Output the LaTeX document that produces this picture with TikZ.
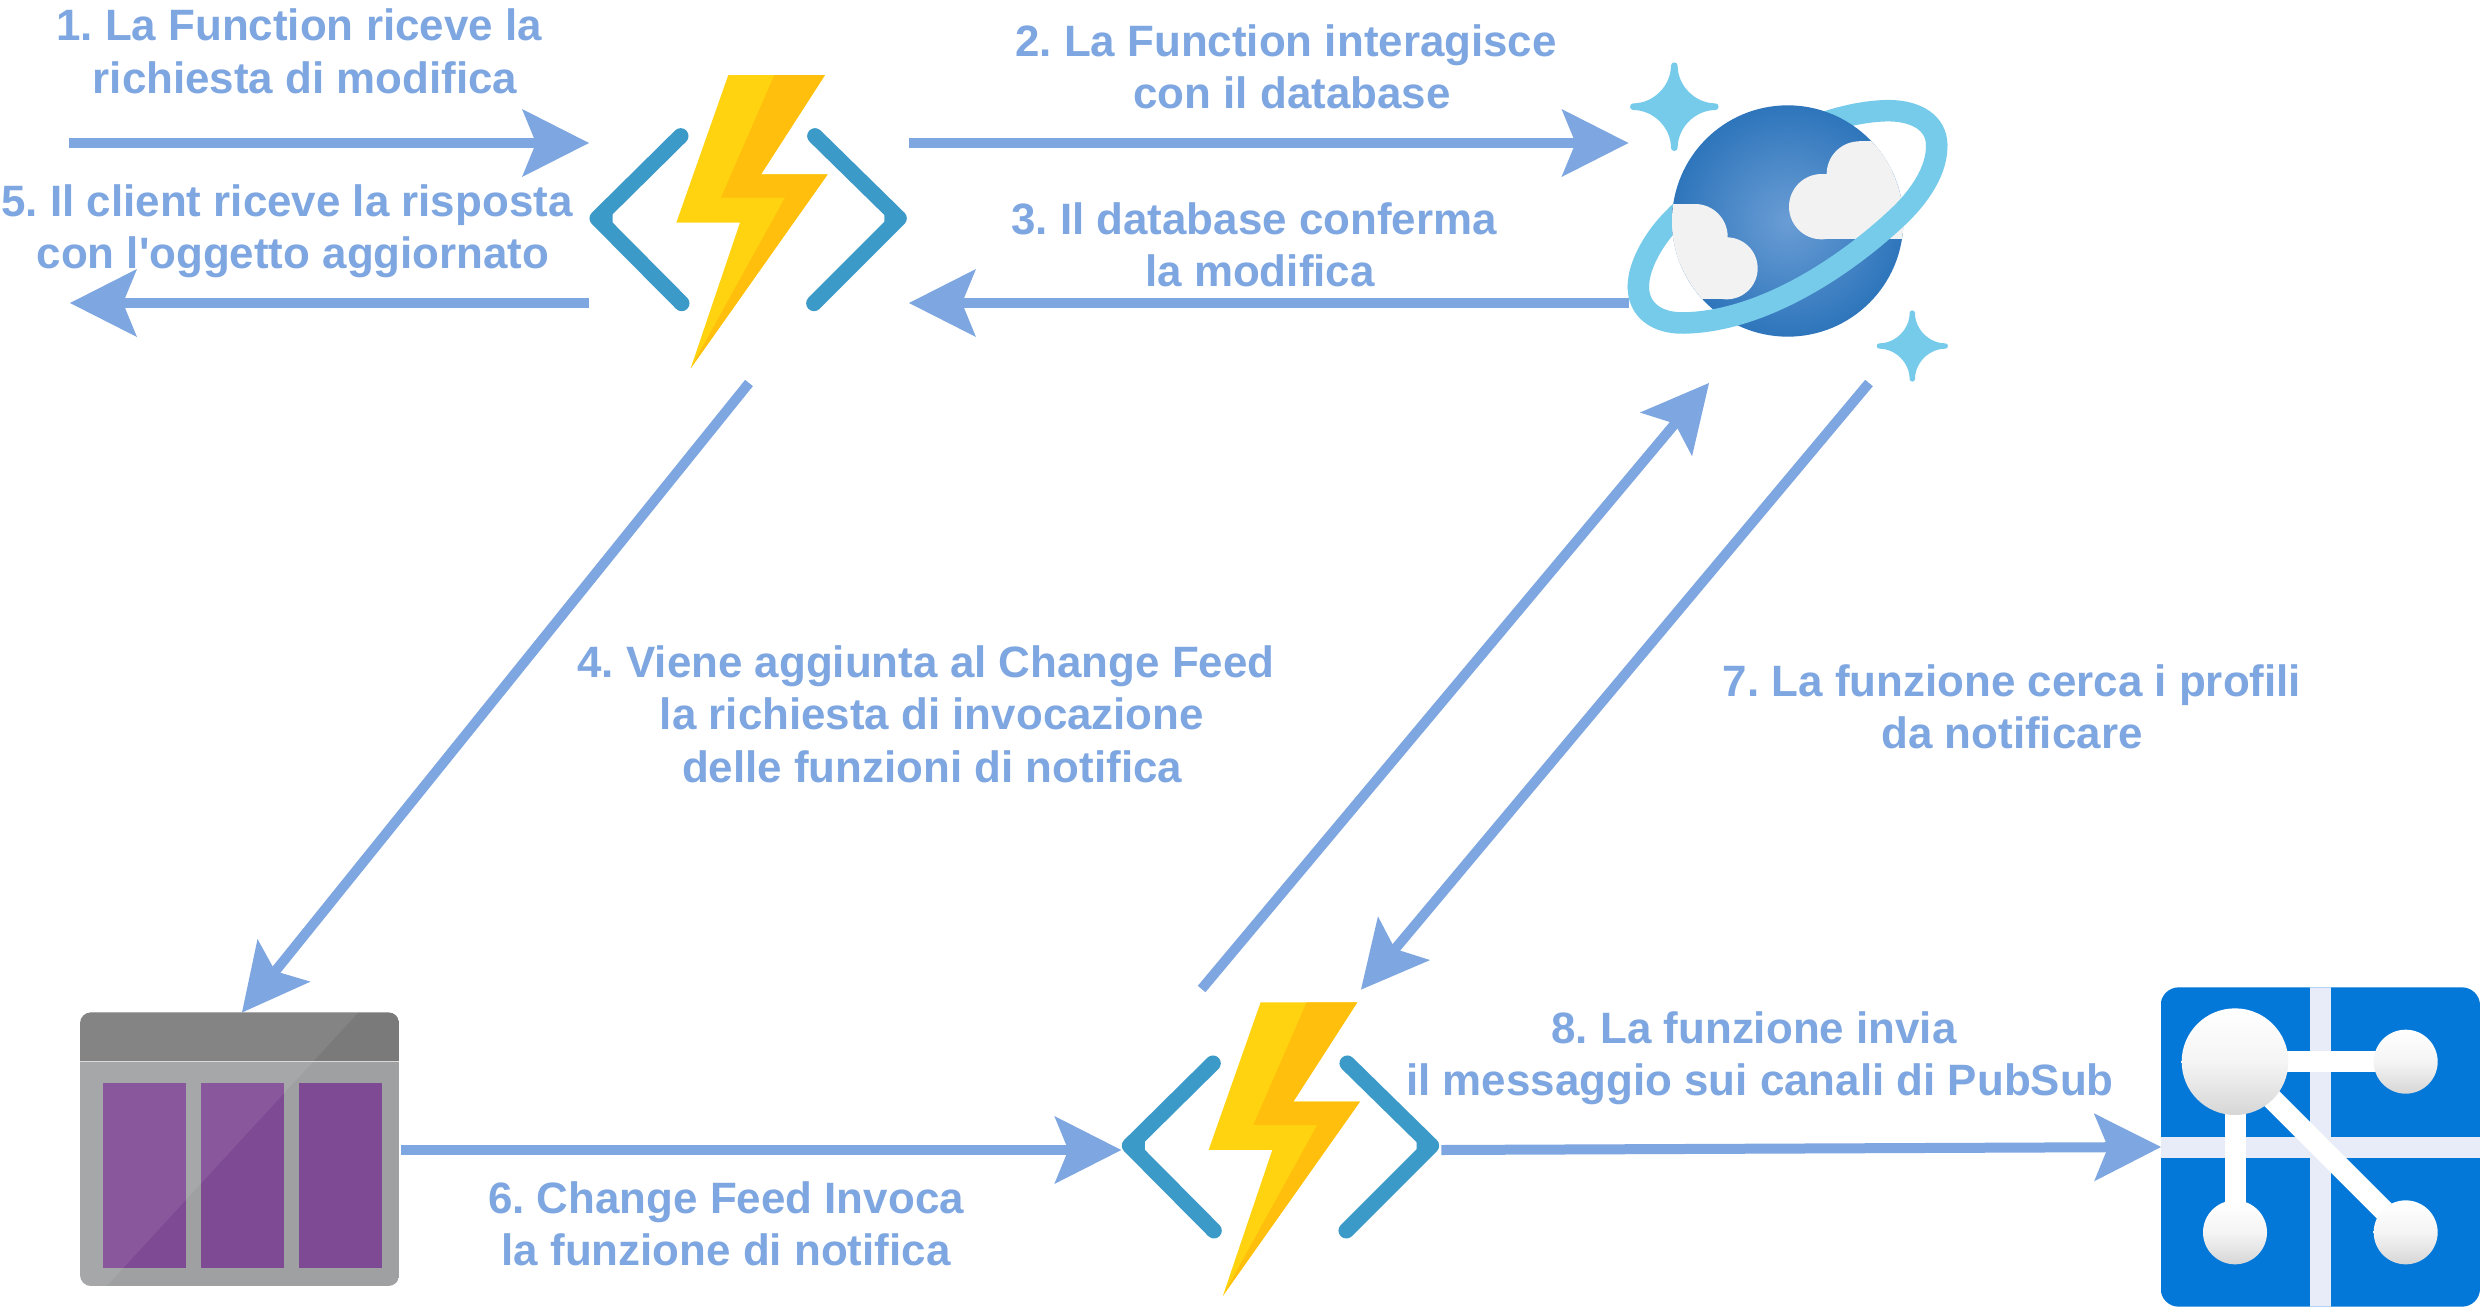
\documentclass[tikz,border=0pt]{standalone}
\usepackage{fontspec}
\setmainfont{Liberation Sans}
\newfontfamily\labfont{Liberation Sans}
\usetikzlibrary{arrows.meta}
\definecolor{flow}{HTML}{7EA6E0}
\definecolor{boltlight}{HTML}{FFD310}
\definecolor{boltdark}{HTML}{FFBF0C}
\definecolor{bracket}{HTML}{3B9AC7}
\definecolor{ring}{HTML}{76CBEA}
\definecolor{globein}{HTML}{6A9DD5}
\definecolor{globeout}{HTML}{2E75BB}
\definecolor{cloud}{HTML}{F2F2F2}
\definecolor{feedhead}{HTML}{7A7A7A}
\definecolor{feedbody}{HTML}{9FA0A2}
\definecolor{feedline}{HTML}{D9D9D9}
\definecolor{feedcol}{HTML}{7F4A94}
\definecolor{hubblue}{HTML}{0378D8}
\definecolor{hubbar}{HTML}{E8EBF8}
\definecolor{hubshade}{HTML}{D6D6D6}
\newcommand{\tsp}{\hspace*{12pt}}
\tikzset{
  arrowline/.style={draw=flow,line width=10pt,-{Stealth[length=67pt,width=68pt,inset=14pt,line width=0pt,fill=flow]}},
  lab/.style={text=flow,font=\fontsize{43.9pt}{52.5pt}\labfont\selectfont\bfseries\frenchspacing,align=center,inner sep=0pt},
  iconbox/.style={inner sep=0pt,outer sep=0pt,draw=none},
  bracketline/.style={draw=bracket,line width=15.7pt,line cap=round,line join=round},
  hubball/.style={top color=white,bottom color=hubshade,middle color=white!96!black},
  hubspoke/.style={draw=white,line width=21pt}
}
% Function icon, in 1/3-pixel units from origin #1,#2
\newcommand{\fnIcon}[2]{%
  \begin{scope}[shift={(#1,#2)},x=0.33333pt,y=-0.33333pt]
    \draw[bracketline] (362,258) -- (112,505) -- (365,760);
    \draw[bracketline] (765,258) -- (1017,505) -- (762,760);
    \fill[bracket] (140,505) -- (158,490) -- (158,520) -- cycle;
    \fill[bracket] (989,505) -- (973,490) -- (973,520) -- cycle;
    \fill[boltlight] (505,75) -- (795,75) -- (603,373) -- (803,373) -- (392,955) -- (540,518) -- (349,518) -- cycle;
    \fill[boltdark] (643,75) -- (795,75) -- (603,373) -- (803,373) -- (392,955) -- (675,443) -- (483,443) -- cycle;
  \end{scope}}
% four pointed star, centre #1,#2, radius #3 px
\newcommand{\sparkle}[3]{%
  \begin{scope}[shift={(#1,#2)},x=#3pt,y=#3pt]
    \fill[ring] (-.075,-.925) .. controls (-.075,-1.02) and (.075,-1.02) .. (.075,-.925)
      .. controls (.075,-.47) and (.47,-.075) .. (.925,-.075)
      .. controls (1.02,-.075) and (1.02,.075) .. (.925,.075)
      .. controls (.47,.075) and (.075,.47) .. (.075,.925)
      .. controls (.075,1.02) and (-.075,1.02) .. (-.075,.925)
      .. controls (-.075,.47) and (-.47,.075) .. (-.925,.075)
      .. controls (-1.02,.075) and (-1.02,-.075) .. (-.925,-.075)
      .. controls (-.47,-.075) and (-.075,-.47) .. (-.075,-.925) -- cycle;
  \end{scope}}
\begin{document}
\begin{tikzpicture}[x=1pt,y=-1pt]
\useasboundingbox (0,0) rectangle (2482,1312);
\fill[white] (0,0) rectangle (2482,1312);

% icon anchors
\node[iconbox,minimum width=320pt,minimum height=294pt] (fnA) at (749,222) {};
\node[iconbox,minimum width=320pt,minimum height=294pt] (fnB) at (1281.3,1149.3) {};
\node[iconbox,minimum width=320pt,minimum height=320pt] (db) at (1788.5,222) {};
\node[iconbox,minimum width=321pt,minimum height=274pt] (feed) at (240.5,1149.5) {};
\node[iconbox,minimum width=319pt,minimum height=320pt] (hub) at (2320.5,1147) {};

% Function icons
\fnIcon{560}{50}
\fnIcon{1092.3}{977.3}

% Cosmos DB icon
\begin{scope}[shift={(1600,40)},x=0.33333pt,y=-0.33333pt]
  \draw[ring,line width=21.5pt,line cap=round] (115,740) .. controls (115,670) and (170,585) .. (220,536)
     .. controls (370,380) and (640,215) .. (865,212) .. controls (950,212) and (1010,250) .. (1010,315);
  \shade[inner color=globein,outer color=globeout] (563,543) circle [radius=347];
  \begin{scope}
    \clip (563,543) circle [radius=347];
    \fill[cloud] (665,500) circle [radius=98];
    \fill[cloud] (778,402) circle [radius=98];
    \fill[cloud] (665,402) rectangle (950,598);
    \fill[cloud] (778,304) rectangle (950,402);
    \fill[cloud] (285,590) circle [radius=98];
    \fill[cloud] (380,685) circle [radius=93];
    \fill[cloud] (150,492) rectangle (285,778);
    \fill[cloud] (285,590) rectangle (380,778);
  \end{scope}
  \draw[ring,line width=21.5pt,line cap=round] (1010,315) .. controls (1012,390) and (960,465) .. (905,520)
     .. controls (760,660) and (500,845) .. (250,849) .. controls (170,850) and (115,810) .. (115,740);
\end{scope}
\sparkle{1674.3}{106.7}{44.4}
\sparkle{1912.3}{346}{35.7}

% Change feed icon
\begin{scope}[shift={(60,990)},x=0.33333pt,y=-0.33333pt]
  \begin{scope}
    \clip[rounded corners=11pt] (60,67) rectangle (1018,888);
    \fill[feedbody] (60,213) rectangle (1018,888);
    \fill[feedhead] (60,67) rectangle (1018,213);
    \fill[feedcol] (128,280) rectangle (378,833);
    \fill[feedcol] (423,280) rectangle (673,833);
    \fill[feedcol] (717,280) rectangle (965,833);
    \fill[white,opacity=.08] (60,67) -- (895,67) -- (140,888) -- (60,888) -- cycle;
    \draw[feedline,line width=1pt] (60,213) -- (1018,213);
  \end{scope}
\end{scope}

% PubSub icon
\begin{scope}[shift={(2140,970)},x=0.33333pt,y=-0.33333pt]
  \begin{scope}
    \clip[rounded corners=18pt] (62,52) rectangle (1020,1010);
    \fill[hubblue] (62,52) rectangle (1020,1010);
    \fill[hubbar] (509,52) rectangle (574,1010);
    \fill[hubbar] (62,500) rectangle (1020,563);
  \end{scope}
  \draw[hubspoke] (285,275) -- (797,275);
  \draw[hubspoke] (285,275) -- (285,787);
  \draw[hubspoke] (285,275) -- (797,787);
  \shade[hubball] (285,275) circle [radius=160];
  \shade[hubball] (797,275) circle [radius=96];
  \shade[hubball] (285,787) circle [radius=96];
  \shade[hubball] (797,787) circle [radius=96];
\end{scope}

% free ends and levels
\coordinate (c1) at (69,143);
\coordinate (c5) at (70,303);
\coordinate (top) at (1200,143);
\coordinate (mid) at (1200,303);
\coordinate (low) at (1200,1150);

% connectors
\draw[arrowline] (c1) -- (c1 -| fnA.west);
\draw[arrowline] (c5 -| fnA.west) -- (c5);
\draw[arrowline] (top -| fnA.east) -- (top -| db.west);
\draw[arrowline] (mid -| db.west) -- (mid -| fnA.east);
\draw[arrowline] ([yshift=-14pt]fnA.south) -- ([xshift=1.5pt]feed.north);
\draw[arrowline] (low -| feed.east) -- (low -| fnB.west);
\draw[arrowline] ([xshift=-79.7pt,yshift=13.3pt]fnB.north) -- ([xshift=-79.5pt,yshift=-1pt]db.south);
\draw[arrowline] ([xshift=80.5pt,yshift=-1pt]db.south) -- ([xshift=79.7pt,yshift=12.7pt]fnB.north);
\draw[arrowline] (low -| fnB.east) -- (hub.west);

% labels
\node[lab] (t1) at (305,51.5) {1. La Function riceve la\tsp\\richiesta di modifica};
\node[lab] (t2) at (1292,67) {2. La Function interagisce\tsp\\con il database};
\node[lab] (t3) at (1260,245) {3. Il database conferma\tsp\\la modifica};
\node[lab] (t5) at (293,231) {5. Il client riceve la risposta\tsp\\con l'oggetto aggiornato};
\node[lab] (t4) at (932,714) {4. Viene aggiunta al Change Feed\tsp\\la richiesta di invocazione\\delle funzioni di notifica};
\node[lab] (t7) at (2012,707) {7. La funzione cerca i profili\\da notificare};
\node[lab] (t6) at (726,1224) {6. Change Feed Invoca\\la funzione di notifica};
\node[lab] (t8) at (1760,1058) {8. La funzione invia\tsp\\il messaggio sui canali di PubSub};
\end{tikzpicture}
\end{document}
